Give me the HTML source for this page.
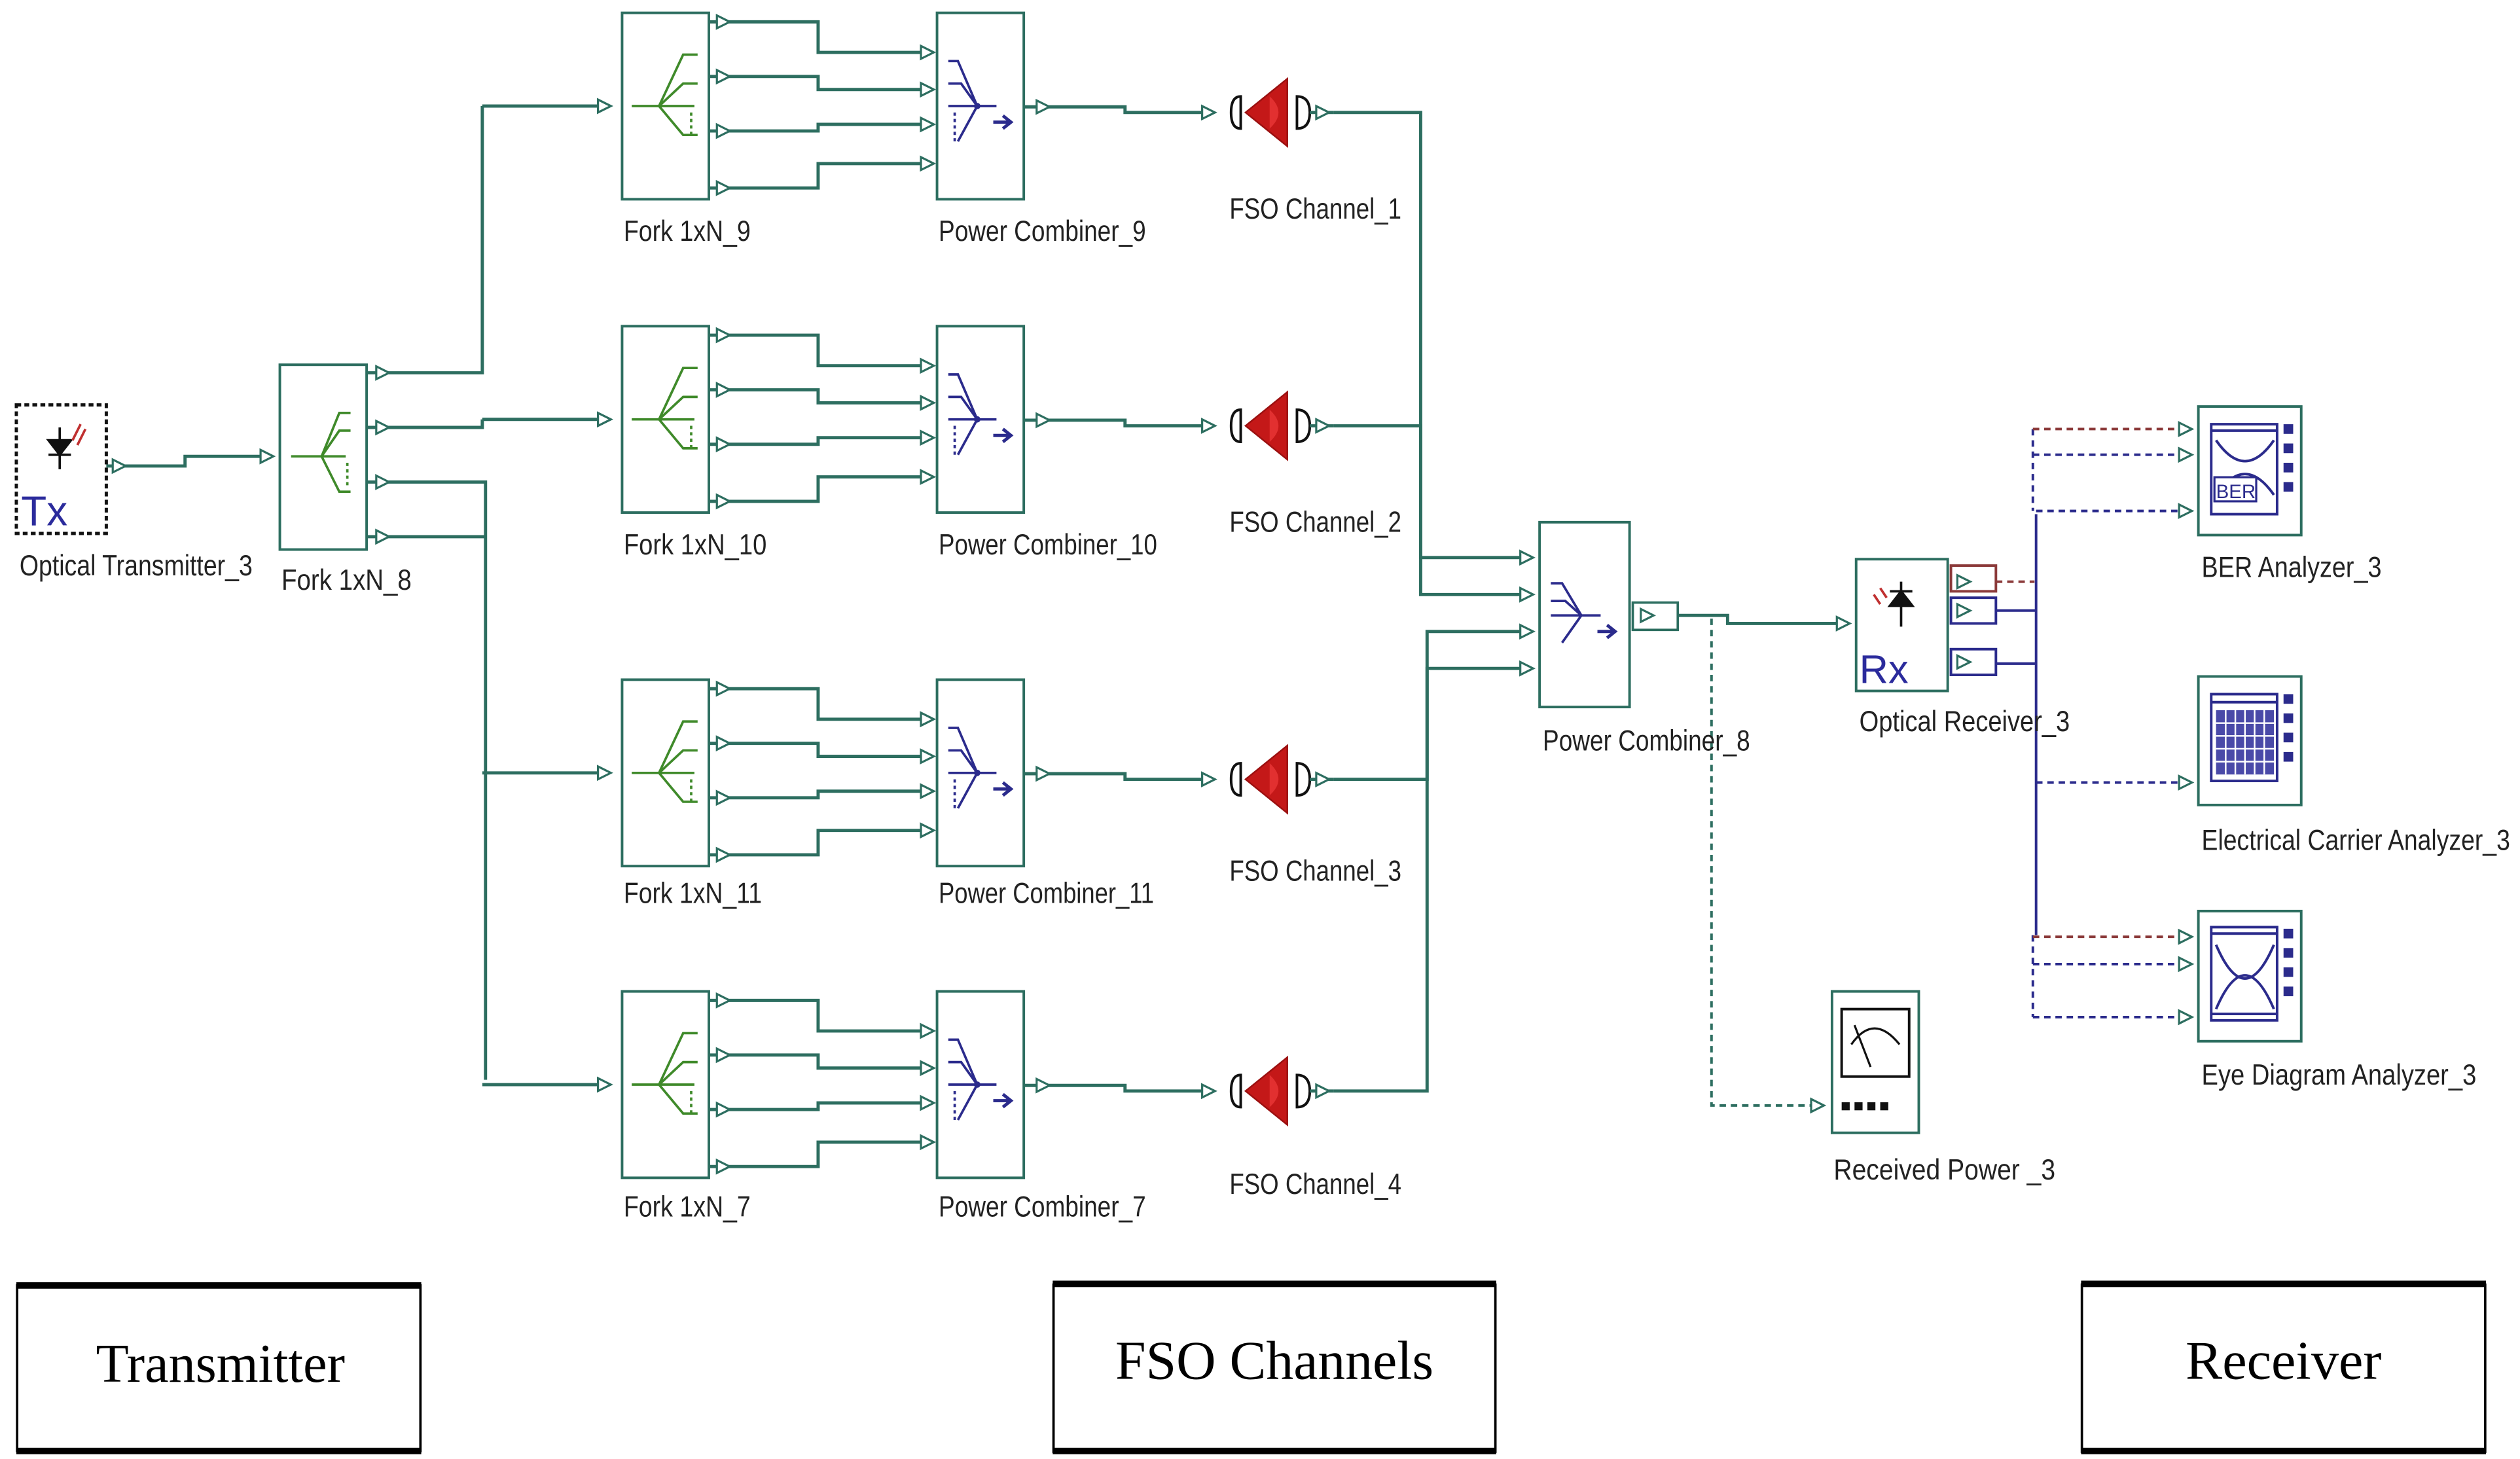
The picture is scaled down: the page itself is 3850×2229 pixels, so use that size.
<!DOCTYPE html>
<html><head><meta charset="utf-8"><style>
html,body{margin:0;padding:0;background:#fff;}
svg{display:block;}
text{font-family:"Liberation Sans",sans-serif;}
</style></head><body>
<svg width="3850" height="2229" viewBox="0 0 1568 908" xmlns="http://www.w3.org/2000/svg">
<defs>
<g id="pt"><path d="M-4,-4 L4,0 L-4,4 Z" fill="#fff" stroke="#2d6e60" stroke-width="1.3"/></g>
<g id="row" fill="none" stroke="#2d6e60">
  <rect x="387" y="0" width="54" height="116" stroke-width="1.6"/>
  <line x1="300" y1="58" x2="372" y2="58" stroke-width="2"/>
  <use href="#pt" x="376" y="58"/>
  <g stroke="#3f8a2a" stroke-width="1.5">
    <line x1="393" y1="58" x2="432" y2="58"/>
    <path d="M410,58 L425,26 L434,26 M410,58 L425,44 L434,44 M410,58 L425,76 L434,76"/>
    <line x1="430" y1="62" x2="430" y2="76" stroke-dasharray="2,2"/>
  </g>
  <g stroke-width="2">
    <path d="M441,5.6 H509 V24.6 H573"/>
    <path d="M441,39.6 H509 V47.7 H573"/>
    <path d="M441,73.5 H509 V69.4 H573"/>
    <path d="M441,109 H509 V93.8 H573"/>
  </g>
  <use href="#pt" x="450" y="5.6"/><use href="#pt" x="450" y="39.6"/><use href="#pt" x="450" y="73.5"/><use href="#pt" x="450" y="109"/>
  <use href="#pt" x="577" y="24.6"/><use href="#pt" x="577" y="47.7"/><use href="#pt" x="577" y="69.4"/><use href="#pt" x="577" y="93.8"/>
  <rect x="583" y="0" width="54" height="116" stroke-width="1.6"/>
  <g stroke="#2b2b8c" stroke-width="1.5">
    <path d="M590,30 L596,30 L608,58 M590,44 L598,44 L608,58 M590,58 L620,58 M596,80 L608,58"/>
    <line x1="594" y1="62" x2="594" y2="80" stroke-dasharray="2,2"/>
    <path d="M618,68 L628,68 M624,64 L629,68 L624,72" stroke-width="2"/>
  </g>
  <circle cx="608" cy="58" r="2" fill="#2b2b8c" stroke="none"/>
  <path d="M637,58.5 H700 V62 H752" stroke-width="2"/>
  <use href="#pt" x="649" y="58.5"/><use href="#pt" x="752" y="62"/>
  <path d="M772,52 Q766,52 766,62 Q766,72 772,72 Z" fill="#fff" stroke="#111" stroke-width="1.6"/>
  <path d="M775,62 L801,41 L801,83 Z" fill="#c41818" stroke="#9b1010" stroke-width="1"/>
  <path d="M790,52 Q801,62 790,72" fill="#e23030" stroke="none"/>
  <path d="M807,52 Q815,52 815,62 Q815,72 807,72 Z" fill="#fff" stroke="#111" stroke-width="1.6"/>
  <line x1="815" y1="62" x2="830" y2="62" stroke-width="2"/>
  <use href="#pt" x="823" y="62"/>
</g>
</defs>

<use href="#row" x="0" y="8"/>
<use href="#row" x="0" y="203"/>
<use href="#row" x="0" y="423"/>
<use href="#row" x="0" y="617"/>

<g fill="none" stroke="#2d6e60" stroke-width="2">
  <rect x="10" y="252" width="56" height="80" stroke="#111" stroke-dasharray="3,2" stroke-width="2"/>
  <path d="M66,290 H115 V284 H164"/>
  <rect x="174" y="227" width="54" height="115" stroke-width="1.6"/>
  <g stroke="#3f8a2a" stroke-width="1.5">
    <line x1="181" y1="284" x2="215" y2="284"/>
    <path d="M200,284 L211,257 L218,257 M200,284 L211,268 L218,268 M200,284 L211,306 L218,306"/>
    <line x1="216" y1="288" x2="216" y2="304" stroke-dasharray="2,2"/>
  </g>
  <path d="M228,232 H300 V66"/>
  <path d="M228,266 H300 V261"/>
  <path d="M228,300 H302 V672"/>
  <path d="M228,334 H302"/>
  <line x1="300" y1="66" x2="372" y2="66"/>
  <line x1="300" y1="261" x2="372" y2="261"/>
  <path d="M830,70 H884 V347 H948"/>
  <path d="M830,265 H884 V370 H948"/>
  <path d="M830,485 H888 V393 H948"/>
  <path d="M830,679 H888 V416 H948"/>
  <rect x="958" y="325" width="56" height="115" stroke-width="1.6"/>
  <rect x="1016" y="375" width="28" height="17" stroke-width="1.5"/>
  <path d="M1044,383 H1075 V388 H1145"/>
  <path d="M1065,385 V688 H1130" stroke-dasharray="4,3" stroke-width="1.6"/>
  <rect x="1155" y="348" width="57" height="82" stroke-width="1.6"/>
  <rect x="1140" y="617" width="54" height="88" stroke-width="1.6"/>
  <rect x="1368" y="253" width="64" height="80" stroke-width="1.6"/>
  <rect x="1368" y="421" width="64" height="80" stroke-width="1.6"/>
  <rect x="1368" y="567" width="64" height="81" stroke-width="1.6"/>
</g>
<use href="#pt" x="74" y="290"/><use href="#pt" x="166" y="284"/>
<use href="#pt" x="238" y="232"/><use href="#pt" x="238" y="266"/><use href="#pt" x="238" y="300"/><use href="#pt" x="238" y="334"/>
<use href="#pt" x="376" y="66"/><use href="#pt" x="376" y="261"/>
<use href="#pt" x="950" y="347"/><use href="#pt" x="950" y="370"/><use href="#pt" x="950" y="393"/><use href="#pt" x="950" y="416"/>
<use href="#pt" x="1025" y="383"/><use href="#pt" x="1147" y="388"/><use href="#pt" x="1131" y="688"/>

<g stroke="#2b2b8c" stroke-width="1.5" fill="none">
  <path d="M965,363 L972,363 L984,383 M965,374 L974,374 L984,383 M965,383 L996,383 M972,400 L984,383"/>
  <path d="M994,393 L1004,393 M1000,389 L1005,393 L1000,397" stroke-width="2"/>
</g>
<g stroke="#111" stroke-width="1.5">
  <line x1="37" y1="266" x2="37" y2="292"/>
  <path d="M30,274 L44,274 L37,283 Z" fill="#111"/>
  <line x1="30" y1="283" x2="44" y2="283"/>
</g>
<path d="M45,274 L50,264 M48,277 L53,267" stroke="#c03030" stroke-width="1.5"/>
<text x="13" y="327" font-size="26" fill="#2b2b9c">Tx</text>
<g stroke="#111" stroke-width="1.5">
  <line x1="1183" y1="362" x2="1183" y2="390"/>
  <path d="M1176,377 L1190,377 L1183,368 Z" fill="#111"/>
  <line x1="1176" y1="368" x2="1190" y2="368"/>
</g>
<path d="M1166,370 L1170,376 M1170,366 L1174,372" stroke="#c03030" stroke-width="1.5"/>
<text x="1157" y="425" font-size="25" fill="#2b2b9c">Rx</text>
<g fill="none" stroke-width="1.6">
  <rect x="1214" y="352" width="28" height="16" stroke="#8b3a3a"/>
  <rect x="1214" y="372" width="28" height="16" stroke="#2b2b8c"/>
  <rect x="1214" y="404" width="28" height="16" stroke="#2b2b8c"/>
  <path d="M1242,362 H1266" stroke="#8b3a3a" stroke-dasharray="4,3"/>
  <path d="M1242,380 H1267 M1242,413 H1267 M1267,320 V582" stroke="#2b2b8c"/>
  <path d="M1265,267 V318" stroke="#2b2b8c" stroke-dasharray="4,3"/>
  <path d="M1265,582 V633" stroke="#2b2b8c" stroke-dasharray="4,3"/>
  <path d="M1265,267 H1356 M1265,583 H1356" stroke="#8b3a3a" stroke-dasharray="4,3"/>
  <path d="M1265,283 H1356 M1267,318 H1356 M1267,487 H1356 M1265,600 H1356 M1265,633 H1356" stroke="#2b2b8c" stroke-dasharray="4,3"/>
</g>
<use href="#pt" x="1222" y="362"/><use href="#pt" x="1222" y="380"/><use href="#pt" x="1222" y="412"/>
<use href="#pt" x="1360" y="267"/><use href="#pt" x="1360" y="283"/><use href="#pt" x="1360" y="318"/><use href="#pt" x="1360" y="487"/>
<use href="#pt" x="1360" y="583"/><use href="#pt" x="1360" y="600"/><use href="#pt" x="1360" y="633"/>
<g fill="none" stroke="#2b2b8c" stroke-width="1.6">
  <rect x="1376" y="264" width="41" height="56"/>
  <path d="M1376,268 H1417 M1379,274 Q1397,300 1415,274 M1379,308 Q1397,282 1415,308"/>
  <rect x="1376" y="432" width="41" height="54"/>
  <path d="M1376,437 H1417"/>
  <rect x="1376" y="577" width="41" height="58"/>
  <path d="M1376,581 H1417 M1376,631 H1417 M1379,588 Q1397,630 1415,588 M1379,628 Q1397,586 1415,628"/>
</g>
<rect x="1378" y="297" width="26" height="15" fill="#fff" stroke="#2b2b8c" stroke-width="1.3"/>
<text x="1379" y="310" font-size="12" fill="#2b2b8c">BER</text>
<g fill="#2b2b8c">
  <rect x="1379" y="442" width="36" height="40" fill="#4a4aa8"/>
  <rect x="1421" y="264" width="6" height="6"/><rect x="1421" y="276" width="6" height="6"/><rect x="1421" y="288" width="6" height="6"/><rect x="1421" y="300" width="6" height="6"/>
  <rect x="1421" y="432" width="6" height="6"/><rect x="1421" y="444" width="6" height="6"/><rect x="1421" y="456" width="6" height="6"/><rect x="1421" y="468" width="6" height="6"/>
  <rect x="1421" y="578" width="6" height="6"/><rect x="1421" y="590" width="6" height="6"/><rect x="1421" y="602" width="6" height="6"/><rect x="1421" y="614" width="6" height="6"/>
</g>
<g stroke="#fff" stroke-width="1"><path d="M1379,450 H1415 M1379,458 H1415 M1379,466 H1415 M1379,474 H1415 M1385,442 V482 M1391,442 V482 M1397,442 V482 M1403,442 V482 M1409,442 V482"/></g>
<rect x="1146" y="628" width="42" height="42" fill="none" stroke="#111" stroke-width="1.6"/>
<path d="M1152,650 Q1166,630 1182,650 M1154,638 L1164,664" fill="none" stroke="#111" stroke-width="1.3"/>
<g fill="#111"><rect x="1146" y="686" width="5" height="5"/><rect x="1154" y="686" width="5" height="5"/><rect x="1162" y="686" width="5" height="5"/><rect x="1170" y="686" width="5" height="5"/></g>

<g font-size="18" fill="#222" lengthAdjust="spacingAndGlyphs">
  <text x="12" y="358" textLength="145" lengthAdjust="spacingAndGlyphs">Optical Transmitter_3</text>
  <text x="175" y="367" textLength="81" lengthAdjust="spacingAndGlyphs">Fork 1xN_8</text>
  <text x="388" y="150" textLength="79" lengthAdjust="spacingAndGlyphs">Fork 1xN_9</text>
  <text x="584" y="150" textLength="129" lengthAdjust="spacingAndGlyphs">Power Combiner_9</text>
  <text x="765" y="136" textLength="107" lengthAdjust="spacingAndGlyphs">FSO Channel_1</text>
  <text x="388" y="345" textLength="89" lengthAdjust="spacingAndGlyphs">Fork 1xN_10</text>
  <text x="584" y="345" textLength="136" lengthAdjust="spacingAndGlyphs">Power Combiner_10</text>
  <text x="765" y="331" textLength="107" lengthAdjust="spacingAndGlyphs">FSO Channel_2</text>
  <text x="388" y="562" textLength="86" lengthAdjust="spacingAndGlyphs">Fork 1xN_11</text>
  <text x="584" y="562" textLength="134" lengthAdjust="spacingAndGlyphs">Power Combiner_11</text>
  <text x="765" y="548" textLength="107" lengthAdjust="spacingAndGlyphs">FSO Channel_3</text>
  <text x="388" y="757" textLength="79" lengthAdjust="spacingAndGlyphs">Fork 1xN_7</text>
  <text x="584" y="757" textLength="129" lengthAdjust="spacingAndGlyphs">Power Combiner_7</text>
  <text x="765" y="743" textLength="107" lengthAdjust="spacingAndGlyphs">FSO Channel_4</text>
  <text x="960" y="467" textLength="129" lengthAdjust="spacingAndGlyphs">Power Combiner_8</text>
  <text x="1157" y="455" textLength="131" lengthAdjust="spacingAndGlyphs">Optical Receiver_3</text>
  <text x="1141" y="734" textLength="138" lengthAdjust="spacingAndGlyphs">Received  Power _3</text>
  <text x="1370" y="359" textLength="112" lengthAdjust="spacingAndGlyphs">BER Analyzer_3</text>
  <text x="1370" y="529" textLength="192" lengthAdjust="spacingAndGlyphs">Electrical Carrier Analyzer_3</text>
  <text x="1370" y="675" textLength="171" lengthAdjust="spacingAndGlyphs">Eye Diagram Analyzer_3</text>
</g>

<g fill="none" stroke="#000">
  <rect x="10.5" y="800" width="251" height="103" stroke-width="1.5"/>
  <rect x="655.5" y="799.5" width="275" height="104" stroke-width="1.5"/>
  <rect x="1295.5" y="799.5" width="251" height="104" stroke-width="1.5"/>
</g>
<g fill="#000">
  <rect x="10" y="798" width="252" height="4"/><rect x="10" y="901" width="252" height="4"/>
  <rect x="655" y="797" width="276" height="4"/><rect x="655" y="901" width="276" height="4"/>
  <rect x="1295" y="797" width="252" height="4"/><rect x="1295" y="901" width="252" height="4"/>
</g>
<g font-size="34" fill="#000" text-anchor="middle">
  <text x="137" y="860" style="font-family:'Liberation Serif',serif" textLength="155" lengthAdjust="spacingAndGlyphs">Transmitter</text>
  <text x="793" y="858" style="font-family:'Liberation Serif',serif" textLength="198" lengthAdjust="spacingAndGlyphs">FSO Channels</text>
  <text x="1421" y="858" style="font-family:'Liberation Serif',serif" textLength="122" lengthAdjust="spacingAndGlyphs">Receiver</text>
</g>
</svg>
</body></html>
